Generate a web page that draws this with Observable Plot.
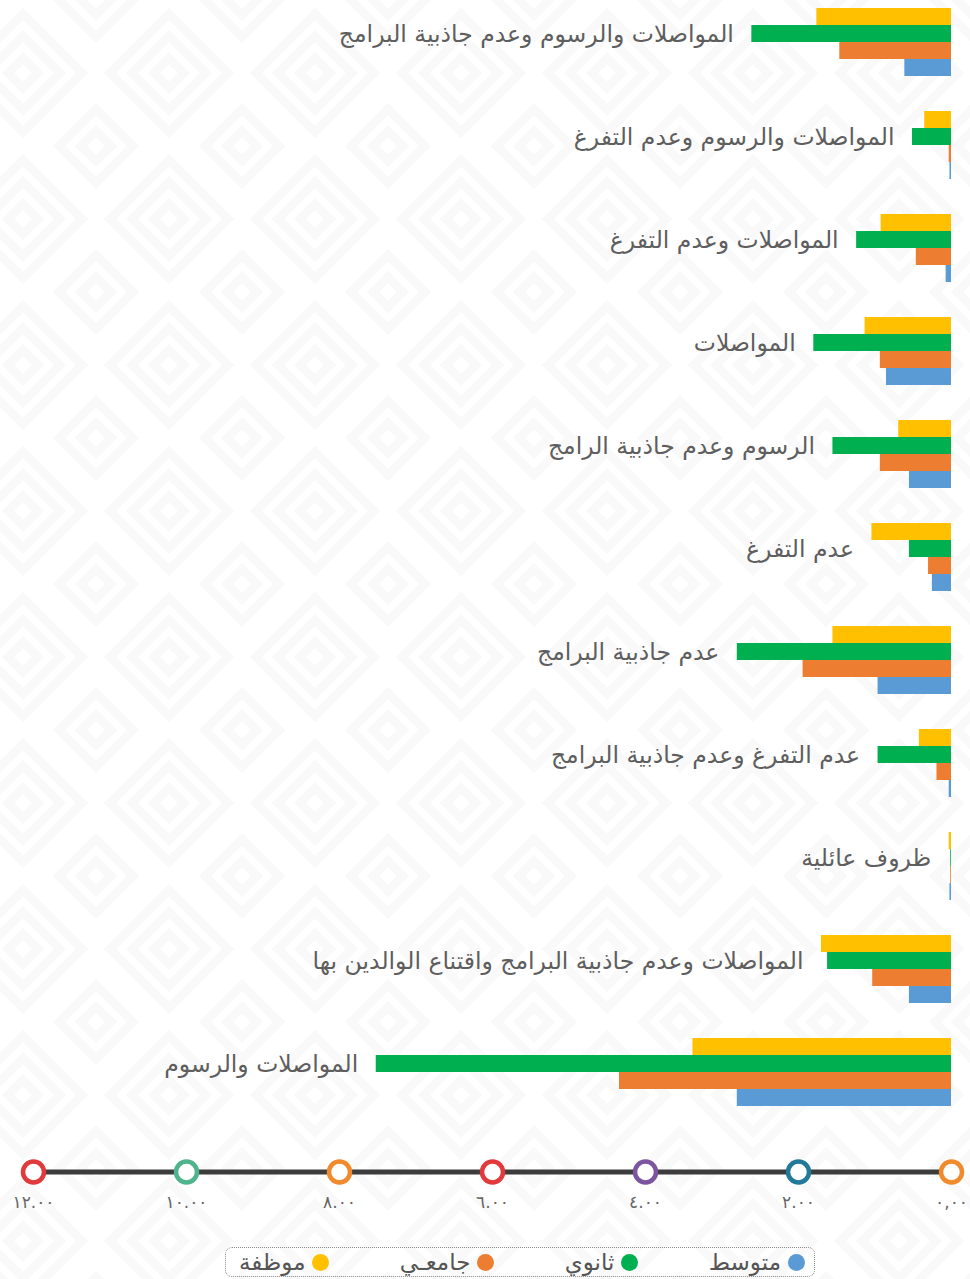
<!DOCTYPE html>
<html lang="ar">
<head>
<meta charset="utf-8">
<script src="https://cdn.jsdelivr.net/npm/d3@7"></script>
<script src="https://cdn.jsdelivr.net/npm/@observablehq/plot@0.6"></script>
<style>
  html, body { margin: 0; padding: 0; }
  body {
    width: 970px; height: 1279px; overflow: hidden;
    font-family: "DejaVu Sans", sans-serif;
    background-color: #ffffff;
    background-image: url("data:image/svg+xml,%3Csvg xmlns='http://www.w3.org/2000/svg' width='146' height='146'%3E%3Cg fill='none' stroke='%23faf9f9' stroke-width='9'%3E%3Cpath d='M73 58 L88 73 L73 88 L58 73Z'/%3E%3Cpath d='M73 36 L110 73 L73 110 L36 73Z'/%3E%3Cpath d='M73 14 L132 73 L73 132 L14 73Z'/%3E%3Cpath d='M0 -15 L15 0 L0 15 L-15 0Z M146 -15 L161 0 L146 15 L131 0Z M0 131 L15 146 L0 161 L-15 146Z M146 131 L161 146 L146 161 L131 146Z'/%3E%3Cpath d='M0 -37 L37 0 L0 37 L-37 0Z M146 -37 L183 0 L146 37 L109 0Z M0 109 L37 146 L0 183 L-37 146Z M146 109 L183 146 L146 183 L109 146Z'/%3E%3C/g%3E%3C/svg%3E");
    background-position: -50px 0px;
  }
  #chart svg { display: block; overflow: visible; background: transparent; }
  #legend {
    position: absolute; left: 225px; top: 1247px; width: 590px; height: 30px;
    border: 1.5px dotted #8a8a8a; border-radius: 7px; box-sizing: border-box;
    display: flex; flex-direction: row-reverse; justify-content: space-between;
    align-items: center; padding: 0 9px 0 13px;
  }
  .item { display: flex; flex-direction: row-reverse; align-items: center; gap: 7px; font-size: 23px; color: #555; line-height: 1; }
  .item span.t { display: inline-block; text-align: right; }
  .sw { width: 17px; height: 17px; border-radius: 50%; display: inline-block; }
</style>
</head>
<body>
<div id="chart"></div>
<div id="legend"></div>
<script>
const categories = [
  "المواصلات والرسوم وعدم جاذبية البرامج",
  "المواصلات والرسوم وعدم التفرغ",
  "المواصلات وعدم التفرغ",
  "المواصلات",
  "الرسوم وعدم جاذبية الرامج",
  "عدم التفرغ",
  "عدم جاذبية البرامج",
  "عدم التفرغ وعدم جاذبية البرامج",
  "ظروف عائلية",
  "المواصلات وعدم جاذبية البرامج واقتناع الوالدين بها",
  "المواصلات والرسوم"
];
const seriesNames = ["موظفة", "ثانوي", "جامعي", "متوسط"];
const seriesColors = ["#ffc000", "#00b050", "#ed7d31", "#5b9bd5"];
const valuesMuwazzafa = [1.76, 0.35, 0.92, 1.13, 0.69, 1.04, 1.55, 0.42, 0.03, 1.70, 3.38];
const valuesThanawi   = [2.61, 0.51, 1.24, 1.80, 1.55, 0.55, 2.80, 0.96, 0.01, 1.62, 7.52];
const valuesJamii     = [1.46, 0.03, 0.46, 0.93, 0.93, 0.30, 1.94, 0.19, 0.01, 1.03, 4.34];
const valuesMutawasit = [0.61, 0.02, 0.07, 0.85, 0.55, 0.25, 0.96, 0.03, 0.02, 0.55, 2.80];
const tickValues = [12, 10, 8, 6, 4, 2, 0];
const tickLabels = ["١٢.٠٠", "١٠.٠٠", "٨.٠٠", "٦.٠٠", "٤.٠٠", "٢.٠٠", "٠,٠٠"];
const tickColors = ["#e2393d", "#4fb38e", "#f08a2c", "#e2393d", "#7d559f", "#23799a", "#f08a2c"];
const legendOrder = ["متوسط", "ثانوي", "جامعـي", "موظفة"];
const legendColors = ["#5b9bd5", "#00b050", "#ed7d31", "#ffc000"];

const allValues = [valuesMuwazzafa, valuesThanawi, valuesJamii, valuesMutawasit];
const rows = [];
seriesNames.forEach((s, si) => categories.forEach((c, ci) => rows.push({category: c, series: s, si, value: allValues[si][ci]})));
const maxByCat = new Map(categories.map((c, ci) => [c, d3.max(allValues, arr => arr[ci])]));
const lastCat = categories[categories.length - 1];

const barH = 17;
const bandCenterToAxis = 99.5;
const marks = [];
seriesNames.forEach((s, si) => {
  marks.push(Plot.barX(rows.filter(r => r.si === si), {
    x1: 0, x2: "value", y: "category",
    fill: seriesColors[si],
    insetTop: barH * si, insetBottom: barH * (3 - si)
  }));
});
marks.push(Plot.text(categories, {
  x: c => maxByCat.get(c), y: c => c, text: c => c,
  textAnchor: "end", dx: -18, dy: -8,
  fontSize: 23.5, fill: "#5e5e5e", fontFamily: "DejaVu Sans"
}));
marks.push(Plot.ruleY([lastCat], {y: d => d, x1: 12, x2: 0, dy: bandCenterToAxis, stroke: "#3c3c3c", strokeWidth: 5}));
marks.push(Plot.dot(tickValues, {
  x: d => d, y: () => lastCat, dy: bandCenterToAxis, r: 10.5,
  stroke: (d, i) => tickColors[i], fill: "#ffffff", strokeWidth: 4.5
}));
marks.push(Plot.text(tickValues, {
  x: d => d, y: () => lastCat, dy: bandCenterToAxis + 31, text: (d, i) => tickLabels[i],
  fontSize: 17, fill: "#666", fontFamily: "DejaVu Sans"
}));

const chart = Plot.plot({
  width: 970, height: 1235,
  marginLeft: 33, marginRight: 19, marginTop: 8, marginBottom: 40,
  style: {background: "transparent", overflow: "visible"},
  x: {domain: [0, 12], reverse: true, axis: null},
  y: {domain: categories, range: [7, 1107], paddingInner: 0.34, paddingOuter: 0, axis: null},
  color: {type: "identity"},
  marks
});
document.getElementById("chart").appendChild(chart);

const legend = document.getElementById("legend");
legendOrder.forEach((name, i) => {
  const it = document.createElement("div");
  it.className = "item";
  const sw = document.createElement("span");
  sw.className = "sw"; sw.style.background = legendColors[i];
  const t = document.createElement("span");
  t.className = "t";
  t.textContent = name;
  it.appendChild(sw); it.appendChild(t);
  legend.appendChild(it);
});
</script>
</body>
</html>
